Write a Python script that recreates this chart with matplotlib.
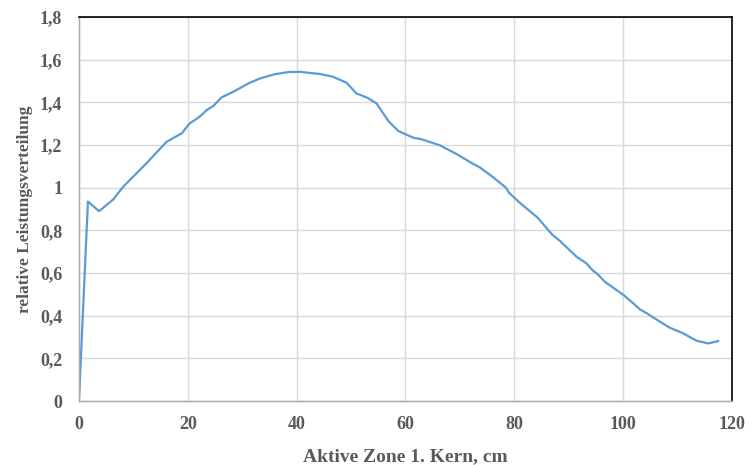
import matplotlib.pyplot as plt
from matplotlib.ticker import FuncFormatter, MultipleLocator

# Relative power distribution along the active zone.
position_cm = [
    0.0, 1.65, 3.7, 6.3, 8.15, 12.4, 16.1, 18.9, 20.3, 22.2, 23.5, 24.7,
    26.2, 28.4, 31.4, 33.3, 36.0, 38.5, 40.6, 44.3, 46.7, 49.2, 51.0, 52.9,
    54.7, 56.9, 58.7, 61.5, 63.0, 66.4, 69.4, 72.5, 73.7, 76.2, 78.5, 79.1,
    81.1, 84.3, 87.0, 88.4, 91.5, 93.3, 94.5, 95.2, 96.7, 100.1, 101.9,
    103.1, 104.4, 106.8, 108.6, 111.1, 113.5, 115.7, 117.5,
]
relative_power = [
    0.0, 0.935, 0.89, 0.945, 1.005, 1.114, 1.215, 1.255, 1.30, 1.333, 1.364,
    1.383, 1.423, 1.45, 1.492, 1.512, 1.532, 1.542, 1.543, 1.533, 1.52,
    1.492, 1.442, 1.423, 1.395, 1.312, 1.266, 1.234, 1.227, 1.198, 1.158,
    1.111, 1.095, 1.048, 1.0, 0.975, 0.928, 0.86, 0.78, 0.751, 0.676, 0.645,
    0.611, 0.598, 0.559, 0.497, 0.458, 0.43, 0.411, 0.372, 0.344, 0.317,
    0.283, 0.27, 0.281,
]

TEXT_GREY = "#595959"
plt.rcParams["font.family"] = ["Liberation Serif", "DejaVu Serif"]


def comma_fmt(v, _pos):
    s = f"{v:.1f}".rstrip("0").rstrip(".")
    return s.replace(".", ",")


def main():
    fig = plt.figure(figsize=(7.52, 4.65), dpi=100)
    ax = fig.add_axes([0.105, 0.1376, 0.868, 0.8258])

    ax.plot(position_cm, relative_power, color="#5B9BD5", lw=1.6)

    ax.set_xlim(0, 120)
    ax.set_ylim(0, 1.8)
    ax.xaxis.set_major_locator(MultipleLocator(20))
    ax.yaxis.set_major_locator(MultipleLocator(0.2))
    ax.yaxis.set_major_formatter(FuncFormatter(comma_fmt))
    ax.grid(True, color="#D9D9D9", lw=1.0)
    ax.set_axisbelow(True)

    for side in ("left", "bottom"):
        ax.spines[side].set_color("#A6A6A6")
        ax.spines[side].set_linewidth(1.0)
    for side in ("top", "right"):
        ax.spines[side].set_color("black")
        ax.spines[side].set_linewidth(1.2)

    ax.tick_params(length=0, labelsize=13, labelcolor=TEXT_GREY)
    ax.tick_params(axis="x", pad=11)
    ax.tick_params(axis="y", pad=12)
    for lbl in ax.get_xticklabels() + ax.get_yticklabels():
        lbl.set_fontweight("bold")

    ax.set_xlabel("Aktive Zone 1. Kern, cm", fontsize=14, fontweight="bold",
                  color=TEXT_GREY, labelpad=11)
    ax.set_ylabel("relative Leistungsverteilung", fontsize=12.5,
                  fontweight="bold", color=TEXT_GREY, labelpad=5)

    fig.savefig("out.png", dpi=100)


if __name__ == "__main__":
    main()
